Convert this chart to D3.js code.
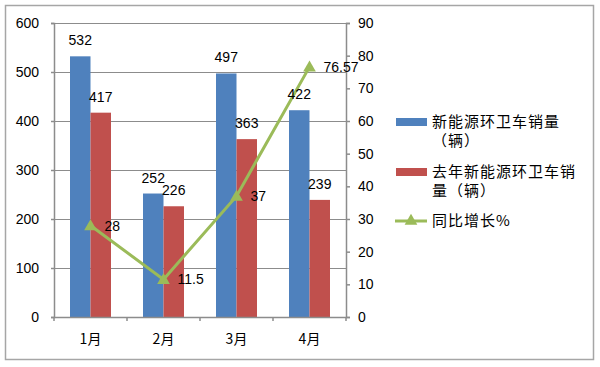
<!DOCTYPE html>
<html>
<head>
<meta charset="utf-8">
<script src="https://cdn.jsdelivr.net/npm/d3@7"></script>
<style>
  body { margin: 0; background: #fff; }
  text { font-family: "Liberation Sans", Arial, sans-serif; }
  .cjk { font-family: "Noto Sans CJK SC", sans-serif; }
</style>
</head>
<body>
<div id="chart"></div>
<script>
// chart data
const months = ["1月", "2月", "3月", "4月"];
const salesThisYear = [532, 252, 497, 422];
const salesLastYear = [417, 226, 363, 239];
const growth = [28, 11.5, 37, 76.57];
const growthLabels = ["28", "11.5", "37", "76.57"];
const leftTicks = [0, 100, 200, 300, 400, 500, 600];
const rightTicks = [0, 10, 20, 30, 40, 50, 60, 70, 80, 90];
const seriesNames = [
  ["新能源环卫车销量", "（辆）"],
  ["去年新能源环卫车销", "量（辆）"],
  ["同比增长%"]
];

const width = 600, height = 367;
const blue = "#4f81bd", red = "#c0504d", green = "#9bbb59";
const gridColor = "#8c8c8c";

let svg = d3.select("#chart").append("svg")
  .attr("width", width)
  .attr("height", height);

// outer frame
svg.append("rect")
  .attr("x", 5.5).attr("y", 5.5)
  .attr("width", 588).attr("height", 354)
  .attr("fill", "#fff")
  .attr("stroke", "#a6a6a6")
  .attr("stroke-width", 1.5);

let plotLeft = 54, plotRight = 346, plotTop = 23, plotBottom = 317;

let x = d3.scaleBand().domain(months).range([plotLeft, plotRight]);
let y = d3.scaleLinear().domain([0, 600]).range([plotBottom, plotTop]);
let y2 = d3.scaleLinear().domain([0, 90]).range([plotBottom, plotTop]);

// gridlines
svg.append("g").selectAll("line")
  .data(leftTicks.filter(d => d > 0))
  .enter().append("line")
  .attr("x1", plotLeft).attr("x2", plotRight)
  .attr("y1", d => Math.round(y(d)) + 0.5)
  .attr("y2", d => Math.round(y(d)) + 0.5)
  .attr("stroke", gridColor)
  .attr("stroke-width", 1);

// bars
let barW = 20.5;
svg.append("g").selectAll("rect")
  .data(salesThisYear)
  .enter().append("rect")
  .attr("x", (d, i) => x(months[i]) + x.bandwidth() / 2 - barW)
  .attr("y", d => y(d))
  .attr("width", barW)
  .attr("height", d => plotBottom - y(d))
  .attr("fill", blue);

svg.append("g").selectAll("rect")
  .data(salesLastYear)
  .enter().append("rect")
  .attr("x", (d, i) => x(months[i]) + x.bandwidth() / 2)
  .attr("y", d => y(d))
  .attr("width", barW)
  .attr("height", d => plotBottom - y(d))
  .attr("fill", red);

// axes
let axisLeft = d3.axisLeft(y).tickValues(leftTicks).tickSize(3).tickPadding(12);
let gL = svg.append("g").attr("transform", `translate(${plotLeft},0)`).call(axisLeft);
let axisRight = d3.axisRight(y2).tickValues(rightTicks).tickSize(4).tickPadding(8);
let gR = svg.append("g").attr("transform", `translate(${plotRight},0)`).call(axisRight);
let axisBottom = d3.axisBottom(x).tickSize(0).tickPadding(17);
let gB = svg.append("g").attr("transform", `translate(0,${plotBottom})`).call(axisBottom);

[gL, gR, gB].forEach(g => {
  g.select(".domain").attr("stroke", gridColor).attr("stroke-width", 1.5);
  g.selectAll(".tick line").attr("stroke", gridColor).attr("stroke-width", 1.5);
  g.selectAll("text").attr("font-size", 14).attr("fill", "#000")
    .attr("font-family", "Liberation Sans, Arial, sans-serif");
});
gB.selectAll("text").attr("class", "cjk").attr("font-family", "Noto Sans CJK SC, sans-serif");

// category boundary ticks on x axis
svg.append("g").selectAll("line")
  .data(months)
  .enter().append("line")
  .attr("x1", d => x(d) + x.bandwidth())
  .attr("x2", d => x(d) + x.bandwidth())
  .attr("y1", plotBottom).attr("y2", plotBottom + 4)
  .attr("stroke", gridColor).attr("stroke-width", 1.5);
svg.append("line")
  .attr("x1", plotLeft).attr("x2", plotLeft)
  .attr("y1", plotBottom).attr("y2", plotBottom + 4)
  .attr("stroke", gridColor).attr("stroke-width", 1.5);

// growth line
let cx = (d, i) => x(months[i]) + x.bandwidth() / 2;
let line = d3.line()
  .x(cx)
  .y(d => y2(d));
svg.append("path")
  .datum(growth)
  .attr("d", line)
  .attr("fill", "none")
  .attr("stroke", green)
  .attr("stroke-width", 3);

let tri = d3.symbol().type(d3.symbolTriangle).size(70);
svg.append("g").selectAll("path")
  .data(growth)
  .enter().append("path")
  .attr("d", tri)
  .attr("transform", (d, i) => `translate(${cx(d, i)},${y2(d) + 1})`)
  .attr("fill", green);

// bar labels
svg.append("g").selectAll("text")
  .data(salesThisYear)
  .enter().append("text")
  .attr("x", (d, i) => x(months[i]) + x.bandwidth() / 2 - barW / 2)
  .attr("y", d => y(d) - 11)
  .attr("text-anchor", "middle")
  .attr("font-size", 14)
  .text(d => d);

svg.append("g").selectAll("text")
  .data(salesLastYear)
  .enter().append("text")
  .attr("x", (d, i) => x(months[i]) + x.bandwidth() / 2 + barW / 2)
  .attr("y", d => y(d) - 11)
  .attr("text-anchor", "middle")
  .attr("font-size", 14)
  .text(d => d);

svg.append("g").selectAll("text")
  .data(growth)
  .enter().append("text")
  .attr("x", (d, i) => cx(d, i) + 14)
  .attr("y", d => y2(d) + 5)
  .attr("font-size", 14)
  .text((d, i) => growthLabels[i]);

// legend
let legend = svg.append("g");
let legendY = [122, 172, 221];
seriesNames.forEach((lines, i) => {
  if (i < 2) {
    legend.append("rect")
      .attr("x", 396).attr("y", legendY[i] - 4)
      .attr("width", 31).attr("height", 8)
      .attr("fill", i === 0 ? blue : red);
  } else {
    legend.append("line")
      .attr("x1", 395).attr("x2", 427)
      .attr("y1", legendY[i]).attr("y2", legendY[i])
      .attr("stroke", green).attr("stroke-width", 3);
    legend.append("path")
      .attr("d", tri)
      .attr("transform", `translate(411,${legendY[i]})`)
      .attr("fill", green);
  }
  lines.forEach((t, j) => {
    legend.append("text")
      .attr("class", "cjk")
      .attr("x", 432)
      .attr("y", legendY[i] + j * 19 + 5)
      .attr("font-size", 15)
      .attr("letter-spacing", 1)
      .text(t);
  });
});
</script>
</body>
</html>
